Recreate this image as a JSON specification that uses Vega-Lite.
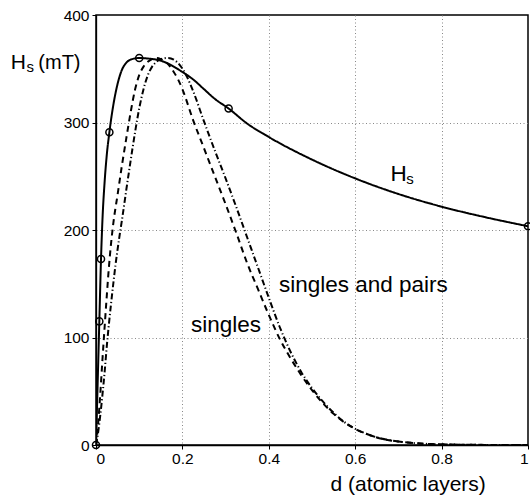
{
  "$schema": "https://vega.github.io/schema/vega-lite/v6.json",
  "width": 432,
  "height": 430,
  "autosize": "none",
  "padding": {"left": 96, "top": 15, "right": 2, "bottom": 52},
  "background": "white",
  "config": {
    "view": {"stroke": "black", "strokeWidth": 1.5},
    "font": "Liberation Sans",
    "axis": {
      "domainColor": "black",
      "domainWidth": 1.3,
      "tickColor": "black",
      "tickSize": 4,
      "labelColor": "black",
      "labelFont": "Liberation Sans",
      "labelFontSize": 15.5,
      "titleFont": "Liberation Sans",
      "titleFontWeight": "normal",
      "titleColor": "black",
      "gridColor": "#888888",
      "gridDash": [1, 2.5],
      "gridWidth": 1
    }
  },
  "datasets": {
    "curves": [
      {"series": "Hs", "d": 0, "H": 0},
      {"series": "Hs", "d": 0.004, "H": 60},
      {"series": "Hs", "d": 0.0077, "H": 115},
      {"series": "Hs", "d": 0.0116, "H": 173},
      {"series": "Hs", "d": 0.015, "H": 210},
      {"series": "Hs", "d": 0.02, "H": 245},
      {"series": "Hs", "d": 0.025, "H": 270},
      {"series": "Hs", "d": 0.031, "H": 291},
      {"series": "Hs", "d": 0.04, "H": 316},
      {"series": "Hs", "d": 0.05, "H": 336},
      {"series": "Hs", "d": 0.06, "H": 349},
      {"series": "Hs", "d": 0.07, "H": 355.5},
      {"series": "Hs", "d": 0.08, "H": 358.5},
      {"series": "Hs", "d": 0.1, "H": 360},
      {"series": "Hs", "d": 0.12, "H": 359.5},
      {"series": "Hs", "d": 0.15, "H": 357.5},
      {"series": "Hs", "d": 0.2, "H": 347},
      {"series": "Hs", "d": 0.225, "H": 340},
      {"series": "Hs", "d": 0.25, "H": 331},
      {"series": "Hs", "d": 0.275, "H": 322},
      {"series": "Hs", "d": 0.307, "H": 313},
      {"series": "Hs", "d": 0.35, "H": 299},
      {"series": "Hs", "d": 0.4, "H": 286.5},
      {"series": "Hs", "d": 0.5, "H": 265.5},
      {"series": "Hs", "d": 0.6, "H": 248},
      {"series": "Hs", "d": 0.7, "H": 233.5},
      {"series": "Hs", "d": 0.8, "H": 221.7},
      {"series": "Hs", "d": 0.9, "H": 212},
      {"series": "Hs", "d": 1, "H": 203.5},

      {"series": "singles", "d": 0, "H": 0},
      {"series": "singles", "d": 0.005, "H": 20},
      {"series": "singles", "d": 0.01, "H": 48},
      {"series": "singles", "d": 0.015, "H": 80},
      {"series": "singles", "d": 0.02, "H": 110},
      {"series": "singles", "d": 0.025, "H": 139},
      {"series": "singles", "d": 0.03, "H": 166},
      {"series": "singles", "d": 0.035, "H": 188},
      {"series": "singles", "d": 0.04, "H": 206},
      {"series": "singles", "d": 0.05, "H": 233},
      {"series": "singles", "d": 0.06, "H": 260},
      {"series": "singles", "d": 0.07, "H": 285},
      {"series": "singles", "d": 0.08, "H": 309},
      {"series": "singles", "d": 0.09, "H": 330},
      {"series": "singles", "d": 0.1, "H": 344},
      {"series": "singles", "d": 0.11, "H": 352},
      {"series": "singles", "d": 0.12, "H": 356.5},
      {"series": "singles", "d": 0.13, "H": 359},
      {"series": "singles", "d": 0.14, "H": 360},
      {"series": "singles", "d": 0.15, "H": 359},
      {"series": "singles", "d": 0.165, "H": 355},
      {"series": "singles", "d": 0.18, "H": 347},
      {"series": "singles", "d": 0.19, "H": 340},
      {"series": "singles", "d": 0.2, "H": 331},
      {"series": "singles", "d": 0.225, "H": 302},
      {"series": "singles", "d": 0.25, "H": 276},
      {"series": "singles", "d": 0.275, "H": 250},
      {"series": "singles", "d": 0.3, "H": 224},
      {"series": "singles", "d": 0.325, "H": 197},
      {"series": "singles", "d": 0.35, "H": 169},
      {"series": "singles", "d": 0.375, "H": 145},
      {"series": "singles", "d": 0.4, "H": 121},
      {"series": "singles", "d": 0.425, "H": 99},
      {"series": "singles", "d": 0.45, "H": 81},
      {"series": "singles", "d": 0.475, "H": 65},
      {"series": "singles", "d": 0.5, "H": 51},
      {"series": "singles", "d": 0.525, "H": 39},
      {"series": "singles", "d": 0.55, "H": 29},
      {"series": "singles", "d": 0.575, "H": 21},
      {"series": "singles", "d": 0.6, "H": 15},
      {"series": "singles", "d": 0.625, "H": 10.5},
      {"series": "singles", "d": 0.65, "H": 7},
      {"series": "singles", "d": 0.7, "H": 3.2},
      {"series": "singles", "d": 0.75, "H": 1.4},
      {"series": "singles", "d": 0.8, "H": 0.6},
      {"series": "singles", "d": 0.9, "H": 0.1},
      {"series": "singles", "d": 1, "H": 0},

      {"series": "singles and pairs", "d": 0, "H": 0},
      {"series": "singles and pairs", "d": 0.005, "H": 12},
      {"series": "singles and pairs", "d": 0.01, "H": 28},
      {"series": "singles and pairs", "d": 0.015, "H": 47},
      {"series": "singles and pairs", "d": 0.02, "H": 68},
      {"series": "singles and pairs", "d": 0.025, "H": 92},
      {"series": "singles and pairs", "d": 0.03, "H": 113},
      {"series": "singles and pairs", "d": 0.035, "H": 132},
      {"series": "singles and pairs", "d": 0.04, "H": 150},
      {"series": "singles and pairs", "d": 0.045, "H": 167},
      {"series": "singles and pairs", "d": 0.05, "H": 182},
      {"series": "singles and pairs", "d": 0.055, "H": 196},
      {"series": "singles and pairs", "d": 0.06, "H": 209},
      {"series": "singles and pairs", "d": 0.07, "H": 237},
      {"series": "singles and pairs", "d": 0.08, "H": 264},
      {"series": "singles and pairs", "d": 0.09, "H": 290},
      {"series": "singles and pairs", "d": 0.1, "H": 313},
      {"series": "singles and pairs", "d": 0.11, "H": 331},
      {"series": "singles and pairs", "d": 0.12, "H": 344},
      {"series": "singles and pairs", "d": 0.13, "H": 352},
      {"series": "singles and pairs", "d": 0.14, "H": 356.5},
      {"series": "singles and pairs", "d": 0.15, "H": 359},
      {"series": "singles and pairs", "d": 0.167, "H": 360},
      {"series": "singles and pairs", "d": 0.18, "H": 358.5},
      {"series": "singles and pairs", "d": 0.195, "H": 353},
      {"series": "singles and pairs", "d": 0.21, "H": 343},
      {"series": "singles and pairs", "d": 0.225, "H": 329},
      {"series": "singles and pairs", "d": 0.25, "H": 301},
      {"series": "singles and pairs", "d": 0.275, "H": 274},
      {"series": "singles and pairs", "d": 0.3, "H": 248},
      {"series": "singles and pairs", "d": 0.325, "H": 221},
      {"series": "singles and pairs", "d": 0.35, "H": 193},
      {"series": "singles and pairs", "d": 0.375, "H": 165},
      {"series": "singles and pairs", "d": 0.4, "H": 137},
      {"series": "singles and pairs", "d": 0.425, "H": 110},
      {"series": "singles and pairs", "d": 0.45, "H": 87},
      {"series": "singles and pairs", "d": 0.475, "H": 68},
      {"series": "singles and pairs", "d": 0.5, "H": 53},
      {"series": "singles and pairs", "d": 0.525, "H": 40.5},
      {"series": "singles and pairs", "d": 0.55, "H": 30},
      {"series": "singles and pairs", "d": 0.575, "H": 21.3},
      {"series": "singles and pairs", "d": 0.6, "H": 15.1},
      {"series": "singles and pairs", "d": 0.625, "H": 10.6},
      {"series": "singles and pairs", "d": 0.65, "H": 7.1},
      {"series": "singles and pairs", "d": 0.7, "H": 3.3},
      {"series": "singles and pairs", "d": 0.75, "H": 1.4},
      {"series": "singles and pairs", "d": 0.8, "H": 0.6},
      {"series": "singles and pairs", "d": 0.9, "H": 0.1},
      {"series": "singles and pairs", "d": 1, "H": 0}
    ],
    "markers": [
      {"d": 0, "H": 0},
      {"d": 0.0077, "H": 115},
      {"d": 0.0116, "H": 173},
      {"d": 0.031, "H": 291},
      {"d": 0.1, "H": 360},
      {"d": 0.307, "H": 313},
      {"d": 1, "H": 203.5}
    ],
    "labels": [
      {"text": "H", "d": 0.7006, "H": 245.9, "role": "big"},
      {"text": "s", "d": 0.7184, "H": 243.2, "role": "sub"},
      {"text": "singles", "d": 0.301, "H": 105.4, "role": "big"},
      {"text": "singles and pairs", "d": 0.619, "H": 142.6, "role": "big"},
      {"text": "H", "d": -0.18, "H": 349.5, "role": "ytitle"},
      {"text": "s", "d": -0.161, "H": 347, "role": "sub"},
      {"text": "(mT)", "d": -0.1335, "H": 349.5, "role": "ytitleleft"}
    ]
  },
  "encoding": {
    "x": {
      "field": "d",
      "type": "quantitative",
      "scale": {"domain": [0, 1], "nice": false, "zero": false},
      "axis": {
        "values": [0, 0.2, 0.4, 0.6, 0.8, 1],
        "format": "~g",
        "labelPadding": 2,
        "title": "d (atomic layers)",
        "titleFontSize": 21,
        "titleX": 311.7,
        "titleY": 45.7,
        "titleAlign": "center",
        "titleBaseline": "alphabetic",
        "gridOpacity": {"condition": {"test": "datum.value === 0 || datum.value === 1", "value": 0}, "value": 1}
      }
    },
    "y": {
      "field": "H",
      "type": "quantitative",
      "scale": {"domain": [0, 400], "nice": false, "zero": false},
      "axis": {
        "values": [0, 100, 200, 300, 400],
        "labelPadding": 3,
        "title": null,
        "gridOpacity": {"condition": {"test": "datum.value === 0 || datum.value === 400", "value": 0}, "value": 1}
      }
    }
  },
  "layer": [
    {
      "data": {"name": "curves"},
      "mark": {"type": "line", "interpolate": "monotone", "color": "black", "strokeWidth": 2, "clip": true},
      "encoding": {
        "detail": {"field": "series", "type": "nominal"},
        "strokeDash": {
          "field": "series",
          "type": "nominal",
          "scale": {"domain": ["Hs", "singles", "singles and pairs"], "range": [[1, 0], [6, 4.5], [6, 2.5, 1.2, 2.5]]},
          "legend": null
        }
      }
    },
    {
      "data": {"name": "markers"},
      "mark": {"type": "point", "shape": "circle", "filled": false, "color": "black", "strokeWidth": 1.5, "size": 50, "opacity": 1}
    },
    {
      "data": {"name": "labels"},
      "transform": [{"filter": "datum.role === 'big'"}],
      "mark": {"type": "text", "fontSize": 22.5, "align": "center", "baseline": "alphabetic", "color": "black"},
      "encoding": {"text": {"field": "text"}}
    },
    {
      "data": {"name": "labels"},
      "transform": [{"filter": "datum.role === 'sub'"}],
      "mark": {"type": "text", "fontSize": 15, "align": "left", "baseline": "alphabetic", "color": "black"},
      "encoding": {"text": {"field": "text"}}
    },
    {
      "data": {"name": "labels"},
      "transform": [{"filter": "datum.role === 'ytitle'"}],
      "mark": {"type": "text", "fontSize": 21, "align": "center", "baseline": "alphabetic", "color": "black"},
      "encoding": {"text": {"field": "text"}}
    },
    {
      "data": {"name": "labels"},
      "transform": [{"filter": "datum.role === 'ytitleleft'"}],
      "mark": {"type": "text", "fontSize": 20, "align": "left", "baseline": "alphabetic", "color": "black"},
      "encoding": {"text": {"field": "text"}}
    }
  ]
}
